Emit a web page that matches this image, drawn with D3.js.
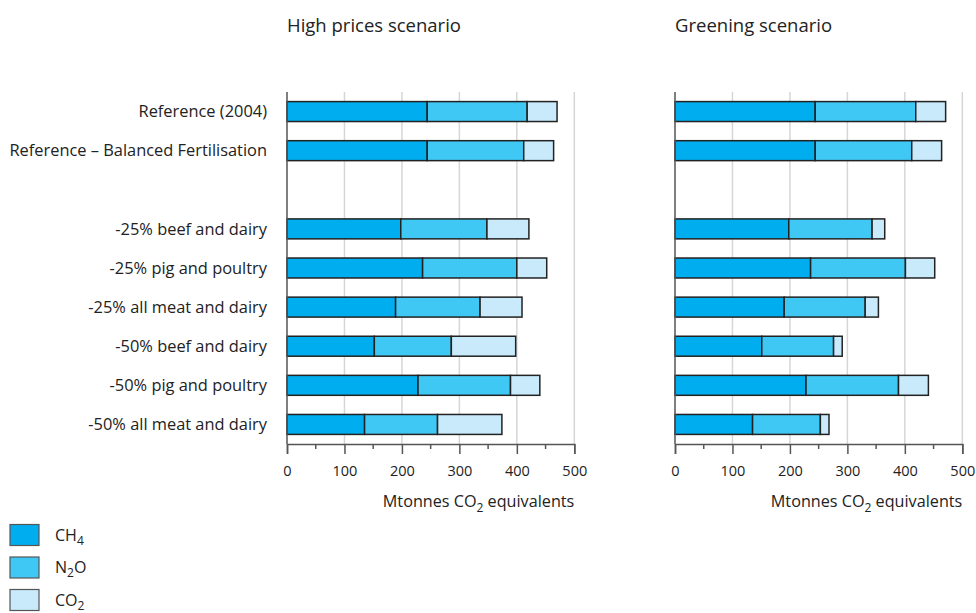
<!DOCTYPE html>
<html><head><meta charset="utf-8">
<script src="https://cdn.jsdelivr.net/npm/d3@7"></script>
<style>
body{margin:0;background:#fff;}
text{font-family:"Open Sans",sans-serif;fill:#222;}
</style></head>
<body><svg id="c" width="976" height="613"></svg>
<script>
const categories = ["Reference (2004)","Reference – Balanced Fertilisation","-25% beef and dairy","-25% pig and poultry","-25% all meat and dairy","-50% beef and dairy","-50% pig and poultry","-50% all meat and dairy"];
const panelTitles = ["High prices scenario","Greening scenario"];
const highCH4 = [244,244,198,236,189,152,228,135];
const highN2O = [174,168,150,164,147,134,161,127];
const highCO2 = [52,52,73,52,73,112,51,112];
const greenCH4 = [244,244,198,236,190,151,228,135];
const greenN2O = [175,168,145,165,141,125,161,118];
const greenCO2 = [52,52,22,51,23,15,52,15];
const xTicks = [0,100,200,300,400,500];
const xMinorTicks = [50,150,250,350,450];
const gases = ["CH4","N2O","CO2"];
const colors = ["#00aeef","#40c8f4","#c8eafa"];

const svg = d3.select("#c");
const slots = [categories[0],categories[1],"__gap__",...categories.slice(2)];
const y = d3.scaleBand().domain(slots).range([92,444]).paddingInner(0.49).paddingOuter(0.245);
const color = d3.scaleOrdinal().domain(gases).range(colors);

function panel(x0, title, ch4, n2o, co2, showLabels){
  const x = d3.scaleLinear().domain([0,500]).range([x0, x0+287.3]);
  const g = svg.append("g");
  g.append("text").attr("x",x0).attr("y",32).attr("font-size",18.5).text(title);
  g.selectAll(".grid").data(xTicks.slice(1)).join("line")
    .attr("x1",d=>x(d)).attr("x2",d=>x(d)).attr("y1",92).attr("y2",444)
    .attr("stroke","#d6d6d6").attr("stroke-width",1.5);
  const rows = categories.map((c,i)=>({cat:c,CH4:ch4[i],N2O:n2o[i],CO2:co2[i]}));
  const series = d3.stack().keys(gases)(rows);
  g.selectAll(".s").data(series).join("g").attr("fill",d=>color(d.key))
    .selectAll("rect").data(d=>d).join("rect")
    .attr("x",d=>x(d[0])).attr("width",d=>x(d[1])-x(d[0]))
    .attr("y",d=>y(d.data.cat)).attr("height",y.bandwidth())
    .attr("stroke","#222").attr("stroke-width",1.5);
  g.append("line").attr("x1",x0).attr("x2",x0).attr("y1",92).attr("y2",444).attr("stroke","#555").attr("stroke-width",1.5);
  const ax = d3.axisBottom(x).tickValues(xTicks).tickSize(10).tickPadding(12).tickFormat(d3.format("d"));
  const ag = g.append("g").attr("transform","translate(0,444)").call(ax);
  ag.select(".domain").attr("stroke","#555").attr("stroke-width",1.5);
  ag.selectAll(".tick line").attr("stroke","#555").attr("stroke-width",1.5);
  ag.selectAll(".tick text").attr("font-size",14.5).attr("font-family","Open Sans").attr("fill","#222");
  g.selectAll(".minor").data(xMinorTicks).join("line")
    .attr("x1",d=>x(d)).attr("x2",d=>x(d)).attr("y1",444).attr("y2",449)
    .attr("stroke","#555").attr("stroke-width",1.5);
  const t = g.append("text").attr("x",x(500)).attr("y",507).attr("text-anchor","end").attr("font-size",16.2);
  t.append("tspan").text("Mtonnes CO");
  t.append("tspan").attr("dy",5).attr("font-size",12).text("2");
  t.append("tspan").attr("dy",-5).text(" equivalents");
  if(showLabels){
    g.selectAll(".lab").data(categories).join("text")
      .attr("x",267).attr("y",d=>y(d)+y.bandwidth()/2).attr("dy","0.35em")
      .attr("text-anchor","end").attr("font-size",16.4).text(d=>d);
  }
}
panel(287, panelTitles[0], highCH4, highN2O, highCO2, true);
panel(675, panelTitles[1], greenCH4, greenN2O, greenCO2, false);

const legendLabels = [["CH","4"],["N","2","O"],["CO","2"]];
const lg = svg.append("g");
gases.forEach((k,i)=>{
  const yy = 524.5 + i*32.5;
  lg.append("rect").attr("x",10).attr("y",yy).attr("width",29).attr("height",21)
    .attr("fill",color(k)).attr("stroke","#555").attr("stroke-width",1.2);
  const t = lg.append("text").attr("x",55).attr("y",yy+16).attr("font-size",16);
  const parts = legendLabels[i];
  t.append("tspan").text(parts[0]);
  t.append("tspan").attr("dy",4).attr("font-size",12).text(parts[1]);
  if(parts[2]) t.append("tspan").attr("dy",-4).text(parts[2]);
});
</script></body></html>
